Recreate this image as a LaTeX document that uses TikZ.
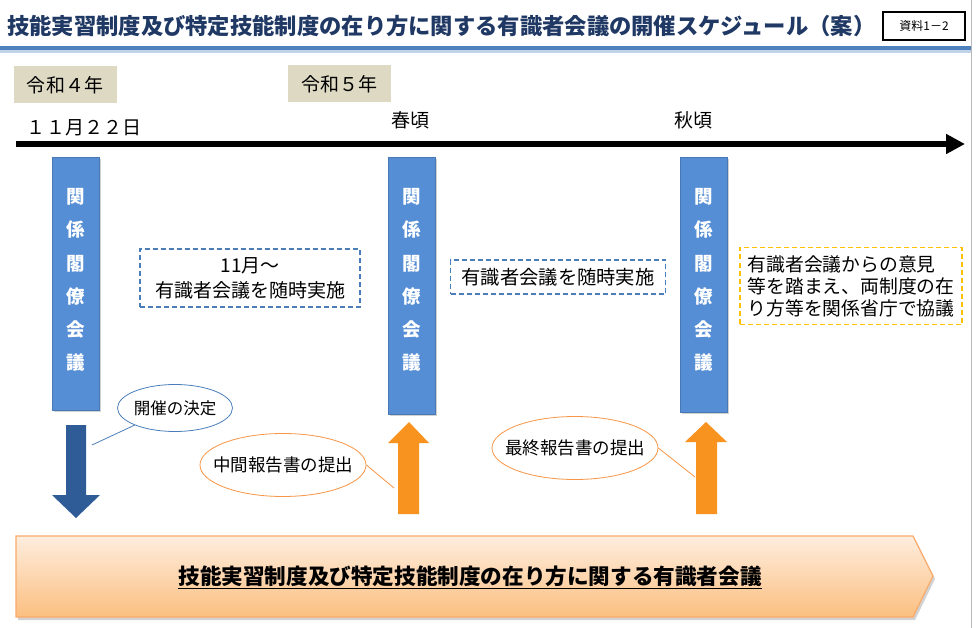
\documentclass[tikz,border=0pt]{standalone}
\usepackage{fontspec}
\setmainfont{Noto Sans CJK JP}
\usetikzlibrary{shapes.geometric,arrows.meta,shadows}
\definecolor{titleblue}{HTML}{1F3864}
\definecolor{rulecol}{HTML}{4F81BD}
\definecolor{beige}{HTML}{DDD9C3}
\definecolor{barblue}{HTML}{558ED5}
\definecolor{dashblue}{HTML}{4A7EBB}
\definecolor{dashyellow}{HTML}{FFC000}
\definecolor{darkarrow}{HTML}{2F5C97}
\definecolor{orangearrow}{HTML}{F7931E}
\definecolor{orangeline}{HTML}{F79646}
\definecolor{peachtop}{HTML}{FEEDDE}
\definecolor{peachbot}{HTML}{FBBF80}
\begin{document}
\begin{tikzpicture}[x=1pt,y=-1pt,
  yearbox/.style={fill=beige, minimum width=103, minimum height=37, inner sep=0, font=\fontsize{19}{22}\selectfont},
  datelabel/.style={font=\fontsize{19}{22}\selectfont},
  barbox/.style={rectangle, fill=barblue, draw=barblue!85!black, line width=0.5, inner sep=0, minimum width=47,
    drop shadow={shadow xshift=2pt, shadow yshift=-2pt, opacity=0.35}},
  bartext/.style={text=white, align=center, font=\fontsize{18.5}{33.2}\selectfont\bfseries},
  dbox/.style={draw=dashblue, dash pattern=on 5pt off 3pt, line width=1.6, inner sep=0, align=center},
  ybox/.style={draw=dashyellow, dash pattern=on 5pt off 3pt, line width=1.6, inner sep=0, align=left},
  callblue/.style={ellipse, draw=dashblue, line width=0.8, fill=white, inner sep=0},
  callorange/.style={ellipse, draw=orangeline, line width=0.8, fill=white, inner sep=0, minimum width=166, minimum height=63, font=\fontsize{17.5}{20}\selectfont},
]
\useasboundingbox (0,0) rectangle (976,628);
\fill[white] (0,0) rectangle (976,628);

% title
\node[anchor=west, inner sep=0, text=titleblue, font=\fontsize{22.3}{26}\selectfont\bfseries] (title) at (7,26)
  {技能実習制度及び特定技能制度の在り方に関する有識者会議の開催スケジュール（案）};
\node[draw, line width=1.6, minimum width=82, minimum height=28, inner sep=0, font=\fontsize{12}{14}\selectfont] (doc) at (924,26) {資料1－2};
\fill[rulecol!35] (0,50) rectangle (972,53);
\fill[rulecol] (0,46) rectangle (972,50);
\draw[gray!55, line width=1] (971.5,0) -- (971.5,628);

% years
\node[yearbox] (y4) at (65,85) {令和４年};
\node[yearbox] (y5) at (339,84) {令和５年};
\node[datelabel] (d1) at (84,128) {１１月２２日};
\node[datelabel] (d2) at (410,120) {春頃};
\node[datelabel] (d3) at (693,120) {秋頃};

% timeline
\coordinate (tl0) at (16,144);
\coordinate (tl1) at (965,144);
\draw[line width=6, -{Triangle[length=19,width=19]}] (tl0) -- (tl1);

% bars
\node[barbox, minimum height=253] (b1) at (75.5,283.5) {};
\node[bartext] (t1) at (75.5,280) {関\\係\\閣\\僚\\会\\議};
\node[barbox, minimum height=257] (b2) at (411.5,285.5) {};
\node[bartext] (t2) at (411.5,280) {関\\係\\閣\\僚\\会\\議};
\node[barbox, minimum height=255] (b3) at (703.5,284.5) {};
\node[bartext] (t3) at (703.5,280) {関\\係\\閣\\僚\\会\\議};

% dashed boxes
\node[dbox, minimum width=220, minimum height=58, font=\fontsize{19}{25}\selectfont] (m1) at (250,278) {11月～\\有識者会議を随時実施};
\node[dbox, minimum width=215, minimum height=34, font=\fontsize{19.3}{22}\selectfont] (m2) at (558,277) {有識者会議を随時実施};
\node[ybox, minimum width=222, minimum height=77, font=\fontsize{18.8}{22}\selectfont] (m3) at (851,286)
  {有識者会議からの意見\\等を踏まえ、両制度の在\\り方等を関係省庁で協議};

% block arrows
\fill[darkarrow] (66,425) -- (86,425) -- (86,495) -- (100,495) -- (76,518) -- (52,495) -- (66,495) -- cycle;
\fill[orangearrow] (398,514) -- (419,514) -- (419,443) -- (429,443) -- (409,422) -- (388,443) -- (398,443) -- cycle;
\fill[orangearrow] (696,514) -- (717,514) -- (717,442) -- (727,442) -- (706,422) -- (685,442) -- (696,442) -- cycle;

% callouts
\node[callblue, minimum width=115, minimum height=47, font=\fontsize{16.5}{19}\selectfont] (e1) at (175,408) {\makebox[0pt]{開催の決定}};
\coordinate (p1) at (92,445);
\draw[dashblue, line width=0.8] (e1.-157) -- (p1);
\node[callorange] (e2) at (283,465) {\makebox[0pt]{中間報告書の提出}};
\coordinate (p2) at (394,488);
\draw[orangeline, line width=0.8] (e2.east) -- (p2);
\node[callorange] (e3) at (575,448) {\makebox[0pt]{最終報告書の提出}};
\coordinate (p3) at (695,477);
\draw[orangeline, line width=0.8] (e3.east) -- (p3);

% bottom chevron
\fill[gray!35] (18,539) -- (915,539) -- (935,579) -- (915,620) -- (18,620) -- cycle;
\shade[top color=peachtop, bottom color=peachbot] (16,536) -- (913,536) -- (933,576) -- (913,617) -- (16,617) -- cycle;
\draw[orangeline!80, line width=1.2] (16,536) -- (913,536) -- (933,576) -- (913,617) -- (16,617) -- cycle;
\node[font=\fontsize{21.6}{24}\selectfont\bfseries] (council) at (470,577)
  {\underline{技能実習制度及び特定技能制度の在り方に関する有識者会議}};
\end{tikzpicture}
\end{document}
